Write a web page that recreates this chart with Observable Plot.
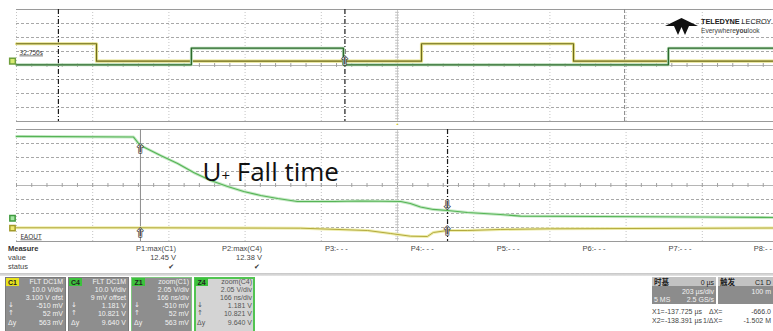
<!DOCTYPE html>
<html>
<head>
<meta charset="utf-8">
<script src="https://cdn.jsdelivr.net/npm/d3@7"></script>
<script src="https://cdn.jsdelivr.net/npm/@observablehq/plot@0.6"></script>
<style>
html, body { margin:0; padding:0; background:#fff; overflow:hidden; }
#wrap { position:relative; width:773px; height:331px; overflow:hidden; background:#fff;
  font-family:"Liberation Sans", Arial, sans-serif; color:#333; }
#wrap svg.plotsvg { position:absolute; left:0; }
.t { position:absolute; white-space:nowrap; line-height:1; }
.bx { position:absolute; box-sizing:border-box; }
</style>
</head>
<body>
<div id="wrap"></div>
<script>
// ---------------- data ----------------
// Upper window: C1 (yellow) and C4 (green), 10 V/div, 200 µs/div
const topTimeGrid = [-1000,-800,-600,-400,-200,0,200,400,600,800,1000];   // µs
const topVoltGrid = [-40,-30,-20,-10,0,10,20,30,40];                     // V
const c1Time = [-1000, -790, 63, 462, 1000];      // µs (step edges)
const c1Volt = [12.45, 0, 12.45, 0, 0];           // V
const c1Offset = 3.1;                             // V (3.100 V ofst)
const c4Time = [-1000, -541, -142, 711, 1000];    // µs
const c4Volt = [0.5, 12.38, 0.5, 12.38, 12.38];   // V
const topCursorsDark = [-890, -138];              // µs
const topCursorsLight = [596];                    // µs
const triggerTime = [0];

// Lower window: Z1 = zoom(C1), Z4 = zoom(C4), 2.05 V/div, 166 ns/div
const zoomTimeGrid = [-830,-664,-498,-332,-166,0,166,332,498,664,830];  // ns
const zoomDivGrid = [-4,-3,-2,-1,0,1,2,3,4];
const zoomVdiv = 2.05;
const z4Offset = 4.8, z1Offset = 6.24;
const z4Time = [-830,-575,-564,-553,-516,-479,-444,-407,-370,-335,-298,-261,-218,-139,-81,7,28,50,78,109,152,224,268,442,660,830];
const z4Volt = [11.98,11.90,10.95,10.44,9.19,8.02,6.70,5.53,4.65,3.92,3.34,2.90,2.46,2.46,2.53,2.46,2.16,1.65,1.29,1.14,0.85,0.55,0.33,0.26,0.19,0.11];
const z1Time = [-830,-560,-211,-65,-15,28,65,78,109,152,224,333,830];
const z1Volt = [0.05,0.05,-0.01,-0.35,-0.79,-1.18,-1.23,-0.64,-0.35,-0.35,-0.20,-0.10,0.02];
const cursorTimes = [-560, 109];                  // ns (X2, X1)
const cursorReadZ4 = [10.821, 1.181];             // V
const cursorReadZ1 = [0.052, -0.510];             // V
const annotation = "U+ Fall time";

// Measure table
const measureLabels = ["P1:max(C1)","P2:max(C4)","P3:- - -","P4:- - -","P5:- - -","P6:- - -","P7:- - -","P8:- -"];
const measureValues = ["12.45 V","12.38 V","","","","","",""];
const measureStatus = ["✔","✔","","","","","",""];

// Channel descriptor boxes
const chanNames  = ["C1","C4","Z1","Z4"];
const chanHeader = ["FLT DC1M","FLT DC1M","zoom(C1)","zoom(C4)"];
const chanRow1   = ["10.0 V/div","10.0 V/div","2.05 V/div","2.05 V/div"];
const chanRow2   = ["3.100 V ofst","9 mV offset","166 ns/div","166 ns/div"];
const chanRow3   = ["-510 mV","1.181 V","-510 mV","1.181 V"];
const chanRow4   = ["52 mV","10.821 V","52 mV","10.821 V"];
const chanRow5   = ["563 mV","9.640 V","563 mV","9.640 V"];

// Timebase / trigger / cursor readout
const timebase = {title:"时基", delay:"0 µs", scale:"203 µs/div", samples:"5 MS", rate:"2.5 GS/s"};
const trigger  = {title:"触发", src:"C1 D", level:"100 m"};
const readout  = [["X1=","-137.725 µs","ΔX=","-666.0"],["X2=","-138.391 µs","1/ΔX=","-1.502 M"]];

// ---------------- drawing ----------------
const wrap = document.getElementById("wrap");
const c1Data = c1Time.map((t,i)=>({t, v:c1Volt[i]}));
const c4Data = c4Time.map((t,i)=>({t, v:c4Volt[i]}));
const z4Data = z4Time.map((t,i)=>({t, d:(z4Volt[i]-z4Offset)/zoomVdiv}));
const z1Data = z1Time.map((t,i)=>({t, d:(z1Volt[i]-z1Offset)/zoomVdiv}));
const arrowsUp = [
  {t:cursorTimes[0], d:(cursorReadZ4[0]-z4Offset)/zoomVdiv},
  {t:cursorTimes[0], d:(cursorReadZ1[0]-z1Offset)/zoomVdiv}
];
const arrowsX1 = [
  {t:cursorTimes[1], d:(cursorReadZ4[1]-z4Offset)/zoomVdiv, g:"⇩"},
  {t:cursorTimes[1], d:(cursorReadZ1[1]-z1Offset)/zoomVdiv, g:"⇧"}
];
const topMinorT = d3.range(-1000, 1001, 40);
const topMinorV = d3.range(-40, 41, 2);
const zMinorT = d3.range(-830, 831, 33.2);
const zMinorD = d3.range(-4, 4.01, 0.2);

const gridH = {stroke:"#a8a8a8", strokeDasharray:"3,2"};
const gridV = {stroke:"#c4c4c4", strokeDasharray:"1,2"};
const arrowStyle = {fontSize:12, fill:"#fff", stroke:"#222", strokeWidth:1.2, fontFamily:"DejaVu Sans"};

const topPlot = Plot.plot({
  width:773, height:125, marginTop:9, marginBottom:4, marginLeft:16, marginRight:0,
  x:{domain:[-1000,1000], range:[16,778], axis:null},
  y:{domain:[-40,40], axis:null},
  style:{background:"transparent"},
  marks:[
    Plot.ruleX(topTimeGrid.filter(t=>t!==0), gridV),
    Plot.ruleX([0], {stroke:"#cfcfcf"}),
    Plot.ruleY(topVoltGrid.filter(v=>Math.abs(v)!==40 && v!==0), gridH),
    Plot.ruleY([0], {stroke:"#b5b5b5"}),
    Plot.ruleX(topMinorT, {y1:-1.4, y2:1.4, stroke:"#a0a0a0"}),
    Plot.ruleY(topMinorV, {x1:-5, x2:5, stroke:"#c0c0c0"}),
    Plot.ruleY([40, -40], {stroke:"#9a9a9a"}),
    Plot.ruleX(topCursorsLight, {stroke:"#8a8a8a", strokeDasharray:"4,2"}),
    Plot.ruleX(topCursorsDark, {stroke:"#1a1a1a", strokeWidth:1.2, strokeDasharray:"5,2,1,2"}),
    Plot.line(c1Data, {x:"t", y:d=>d.v+c1Offset, curve:"step-after", stroke:"#e6e28a", strokeWidth:3.2}),
    Plot.line(c1Data, {x:"t", y:d=>d.v+c1Offset, curve:"step-after", stroke:"#6e6b1c", strokeWidth:1.2}),
    Plot.line(c4Data, {x:"t", y:"v", curve:"step-after", stroke:"#b9dcb9", strokeWidth:3}),
    Plot.line(c4Data, {x:"t", y:"v", curve:"step-after", stroke:"#2c6a2c", strokeWidth:1.3}),
    Plot.dot([0], {x:-1000, y:d=>d+c1Offset, dx:-4, symbol:"square", r:3.2, fill:"#d6ea70", stroke:"#6f9f3c"}),
    Plot.text(["32.750s"], {frameAnchor:"left", dx:3, dy:-13, text:d=>d, fontSize:6.5, fill:"#333", textAnchor:"start"}),
    Plot.text(["⇧"], {x:topCursorsDark[1], y:c4Volt[2], dy:-4, text:d=>d, ...arrowStyle}),
    Plot.text(triggerTime, {x:d=>d, frameAnchor:"bottom", dy:4, text:()=>"▲", fontSize:5, fill:"#c9c21e"})
  ]
});
topPlot.classList.add("plotsvg");
topPlot.style.top = "0px";
wrap.appendChild(topPlot);

const botPlot = Plot.plot({
  width:773, height:120, marginTop:4, marginBottom:4, marginLeft:16, marginRight:0,
  x:{domain:[-830,830], range:[16,778], axis:null},
  y:{domain:[-4,4], axis:null},
  style:{background:"transparent"},
  marks:[
    Plot.ruleX(zoomTimeGrid.filter(t=>t!==0), gridV),
    Plot.ruleX([0], {stroke:"#cfcfcf"}),
    Plot.ruleY(zoomDivGrid.filter(v=>Math.abs(v)!==4 && v!==0), gridH),
    Plot.ruleY([0], {stroke:"#b5b5b5"}),
    Plot.ruleX(zMinorT, {y1:-0.14, y2:0.14, stroke:"#a0a0a0"}),
    Plot.ruleY(zMinorD, {x1:-4, x2:4, stroke:"#c0c0c0"}),
    Plot.ruleY([4, -4], {stroke:"#9a9a9a"}),
    Plot.ruleX([cursorTimes[0]], {stroke:"#8c8c8c", strokeWidth:1}),
    Plot.ruleX([cursorTimes[1]], {stroke:"#1a1a1a", strokeWidth:1.2, strokeDasharray:"5,2,1,2"}),
    Plot.line(z1Data, {x:"t", y:"d", stroke:"#efeeb0", strokeWidth:3}),
    Plot.line(z1Data, {x:"t", y:"d", stroke:"#b3aa3c", strokeWidth:1}),
    Plot.line(z4Data, {x:"t", y:"d", stroke:"#c6e9c6", strokeWidth:3}),
    Plot.line(z4Data, {x:"t", y:"d", stroke:"#56b456", strokeWidth:1.2}),
    Plot.dot([{o:z4Offset, f:"#a4e6a4", s:"#3f9a3f"}, {o:z1Offset, f:"#efe873", s:"#a39b2a"}],
      {x:-830, y:d=>-d.o/zoomVdiv, dx:-4, symbol:"square", r:3, fill:"f", stroke:"s"}),
    Plot.text(["EAOUT"], {frameAnchor:"bottom-left", dx:4, dy:-3, text:d=>d, fontSize:6.5, fill:"#333", textAnchor:"start"}),
    Plot.text(arrowsUp, {x:"t", y:"d", dy:5, text:()=>"⇧", ...arrowStyle}),
    Plot.text(arrowsX1.slice(0,1), {x:"t", y:"d", dy:-5, text:"g", ...arrowStyle}),
    Plot.text(arrowsX1.slice(1), {x:"t", y:"d", dy:0, text:"g", ...arrowStyle}),
    Plot.text([annotation], {x:-425, y:0.93, text:d=>d, textAnchor:"start", fontSize:26, fontFamily:"Open Sans", fill:"#111"})
  ]
});
botPlot.classList.add("plotsvg");
botPlot.style.top = "125px";
wrap.appendChild(botPlot);

d3.select(botPlot).selectAll("text").each(function(){
  const s = this.textContent;
  if (s === "EAOUT") this.setAttribute("text-decoration","underline");
  if (s === annotation) {
    const el = d3.select(this); el.text(null);
    el.append("tspan").text("U");
    el.append("tspan").attr("font-size", 15).text("+");
    el.append("tspan").text(" Fall time");
  }
});
d3.select(topPlot).selectAll("text").each(function(){
  if (this.textContent === "32.750s") this.setAttribute("text-decoration","underline");
});

// ---------- HTML overlays ----------
function txt(s, x, y, o = {}) {
  const e = document.createElement("div");
  e.className = "t";
  e.textContent = s;
  e.style.left = x + "px"; e.style.top = y + "px";
  e.style.fontSize = (o.size || 7.5) + "px";
  if (o.bold) e.style.fontWeight = "bold";
  e.style.color = o.color || "#333";
  if (o.family) e.style.fontFamily = o.family;
  const tx = o.align === "right" ? "-100%" : o.align === "center" ? "-50%" : "0";
  e.style.transform = `translate(${tx}, -50%)`;
  wrap.appendChild(e);
  return e;
}
function rect(x, y, w, h, css) {
  const e = document.createElement("div");
  e.className = "bx";
  Object.assign(e.style, {left:x+"px", top:y+"px", width:w+"px", height:h+"px"}, css);
  wrap.appendChild(e);
  return e;
}

// logo
const logo = document.createElementNS("http://www.w3.org/2000/svg","svg");
logo.setAttribute("width","34"); logo.setAttribute("height","18");
logo.style.cssText = "position:absolute;left:665px;top:18px;";
logo.innerHTML = '<polygon points="0,8 16.5,0 33,8 24,8 20,17 16.5,9 13,17 9,8" fill="#111"/>';
wrap.appendChild(logo);
const tl = txt("", 701, 22, {size:7.4, color:"#222"});
tl.innerHTML = '<b>TELEDYNE</b> LECROY';
tl.style.letterSpacing = "-0.1px";
const ev = txt("", 701, 30.5, {size:6.6, color:"#444"});
ev.innerHTML = 'Everywhere<b>you</b>look';

// measure table
txt("Measure", 8, 248.5, {bold:true, size:7.5, color:"#333"});
txt("value", 8, 258, {size:7.5, color:"#444"});
txt("status", 8, 267, {size:7.5, color:"#444"});
const colEnds = measureLabels.map((_, i) => Math.min(176 + i * 85.9, 772));
measureLabels.forEach((s, i) => {
  txt(s, colEnds[i], 248.5, {align:"right", size:7.5, color:"#444"});
  if (measureValues[i]) txt(measureValues[i], colEnds[i], 258, {align:"right", size:7.5, color:"#444"});
  if (measureStatus[i]) txt(measureStatus[i], colEnds[i]-2, 267, {align:"right", size:7, color:"#333", family:"DejaVu Sans"});
});
rect(0, 273, 773, 3, {background:"linear-gradient(#c4c4c4,#e6e6e6)"});

// channel boxes
const chipColors = ["#e8e21c","#3cc23c","#3cc23c","#3cc23c"];
chanNames.forEach((n, i) => {
  const x0 = 5 + i * 63, y0 = 277, w = 61, h = 58;
  const sel = i === 3;
  rect(x0, y0, w, h, {background: sel ? "#d4d4d4" : "#8e8e8e",
    border: sel ? "2px solid #52c452" : (i === 2 ? "1px solid #7fc77f" : "1px solid #7a7a7a")});
  rect(x0 + 1, y0 + 1, 13, 8, {background: chipColors[i]});
  txt(n, x0 + 7.5, y0 + 5, {align:"center", bold:true, size:7, color:"#222"});
  const col = sel ? "#555" : "#f2f2f2";
  const rows = [chanHeader[i], chanRow1[i], chanRow2[i], chanRow3[i], chanRow4[i], chanRow5[i]];
  const ys = [4, 12, 20, 28, 36, 45];
  rows.forEach((r, k) => txt(r, x0 + w - 3, y0 + ys[k], {align:"right", size:7, color:col}));
  txt("↓", x0 + 3, y0 + 28, {size:7, color:col, family:"DejaVu Sans"});
  txt("↑", x0 + 3, y0 + 36, {size:7, color:col, family:"DejaVu Sans"});
  txt("Δy", x0 + 3, y0 + 45, {size:7, color:col});
});

// timebase & trigger
rect(652, 277, 64, 9, {background:"#c2c2c2"});
rect(652, 286, 64, 18, {background:"#8c8c8c"});
txt(timebase.title, 654, 281.5, {bold:true, size:7.5, color:"#222", family:"Noto Sans CJK SC"});
txt(timebase.delay, 714, 281.5, {align:"right", size:7, color:"#222"});
txt(timebase.scale, 714, 290.5, {align:"right", size:7, color:"#f2f2f2"});
txt(timebase.samples, 654, 299, {size:7, color:"#f2f2f2"});
txt(timebase.rate, 714, 299, {align:"right", size:7, color:"#f2f2f2"});
rect(718, 277, 60, 9, {background:"#c2c2c2"});
rect(718, 286, 60, 18, {background:"#8c8c8c"});
txt(trigger.title, 720, 281.5, {bold:true, size:7.5, color:"#222", family:"Noto Sans CJK SC"});
txt(trigger.src, 771, 281.5, {align:"right", size:7, color:"#222"});
txt(trigger.level, 771, 290.5, {align:"right", size:7, color:"#f2f2f2"});

// cursor readout
readout.forEach((r, k) => {
  const y = 311 + k * 9;
  txt(r[0], 652, y, {size:7, color:"#444"});
  txt(r[1], 702, y, {align:"right", size:7, color:"#444"});
  txt(r[2], k === 0 ? 709 : 703, y, {size:7, color:"#444"});
  txt(r[3], 771, y, {align:"right", size:7, color:"#444"});
});
</script>
</body>
</html>
